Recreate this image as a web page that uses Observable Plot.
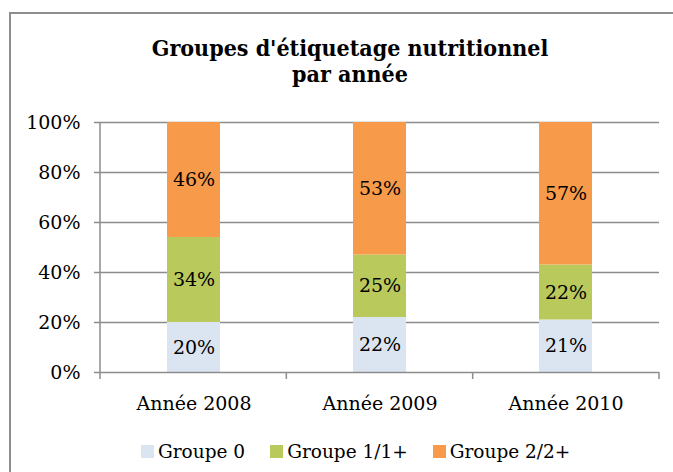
<!DOCTYPE html>
<html>
<head>
<meta charset="utf-8">
<script src="https://cdn.jsdelivr.net/npm/d3@7"></script>
<script src="https://cdn.jsdelivr.net/npm/@observablehq/plot@0.6"></script>
<style>
  html, body { margin: 0; padding: 0; background: #fff; }
  #wrap { position: relative; width: 673px; height: 472px; overflow: hidden; background: #fff; }
  #frame { position: absolute; left: 9px; top: 12px; width: 800px; height: 600px;
           border-left: 2px solid #8e8e8e; border-top: 2px solid #8e8e8e; box-sizing: border-box; }
  #title { position: absolute; left: 0; top: 35px; width: 700px; text-align: center;
           font-family: "DejaVu Serif Condensed", "DejaVu Serif", serif; font-stretch: condensed;
           font-weight: bold; font-size: 23px; line-height: 26px; color: #000; }
  #chart { position: absolute; left: 0; top: 100px; }
  #legend { position: absolute; left: 141px; top: 441px; display: flex; align-items: center;
            font-family: "DejaVu Serif", serif; font-size: 18.5px; color: #000; }
  .item { display: flex; align-items: center; margin-right: 25px; }
  .sw { width: 13px; height: 13px; margin-right: 4px; }
</style>
</head>
<body>
<div id="wrap">
  <div id="frame"></div>
  <div id="title">Groupes d'étiquetage nutritionnel<br>par année</div>
  <div id="chart"></div>
  <div id="legend"></div>
</div>
<script>
const years = ["Année 2008", "Année 2009", "Année 2010"];
const groups = ["Groupe 0", "Groupe 1/1+", "Groupe 2/2+"];
const colors = ["#dbe5f1", "#b9c95c", "#f79a4a"];
const groupe0 = [20, 22, 21];
const groupe1 = [34, 25, 22];
const groupe2 = [46, 53, 57];
const yTicks = [0, 20, 40, 60, 80, 100];

const series = [groupe0, groupe1, groupe2];
const data = [];
years.forEach((yr, i) => {
  groups.forEach((g, j) => data.push({year: yr, group: g, value: series[j][i]}));
});

const gridColor = "#8c8c8c";
const font = "DejaVu Serif, serif";

const chart = Plot.plot({
  width: 673,
  height: 320,
  marginTop: 22,
  marginBottom: 48,
  marginLeft: 100,
  marginRight: 14,
  style: {fontFamily: font, fontSize: "19px", color: "#000", background: "transparent"},
  x: {domain: years, paddingInner: 0.717, paddingOuter: 0.3585, label: null},
  y: {domain: [0, 100], label: null},
  color: {domain: groups, range: colors},
  marks: [
    Plot.gridY(yTicks.filter(d => d > 0), {stroke: gridColor, strokeOpacity: 1, strokeWidth: 1.5}),
    Plot.axisY(yTicks, {tickSize: 6, tickPadding: 14, stroke: gridColor, strokeWidth: 1.5,
                        tickFormat: d => d + "%", fontSize: 19, label: null}),
    Plot.axisX({tickSize: 0, tickPadding: 24, fontSize: 19, label: null}),
    Plot.barY(data, {x: "year", y: "value", fill: "group", z: "group", order: groups}),
    Plot.text(data, Plot.stackY({x: "year", y: "value", z: "group", order: groups,
                                 text: d => d.value + "%", fill: "#000", fontSize: 19})),
    Plot.ruleY([0], {stroke: gridColor, strokeWidth: 1.5})
  ]
});
document.getElementById("chart").appendChild(chart);

// left axis line and category boundary ticks, derived from the plot's scales
const xs = chart.scale("x"), ys = chart.scale("y");
const xBand = d3.scaleBand().domain(xs.domain).range(xs.range)
  .paddingInner(xs.paddingInner).paddingOuter(xs.paddingOuter);
const yLin = d3.scaleLinear().domain(ys.domain).range(ys.range);
const step = xBand.step();
const bounds = years.map(y => xBand(y) + xBand.bandwidth() / 2 - step / 2);
bounds.push(xBand(years[years.length - 1]) + xBand.bandwidth() / 2 + step / 2);
const g = d3.select(chart).append("g").attr("stroke", gridColor).attr("stroke-width", 1.5);
g.append("line").attr("x1", xs.range[0]).attr("x2", xs.range[0])
  .attr("y1", yLin(100)).attr("y2", yLin(0));
bounds.forEach(b => {
  g.append("line").attr("x1", b).attr("x2", b).attr("y1", yLin(0)).attr("y2", yLin(0) + 7);
});

// legend
const legend = document.getElementById("legend");
groups.forEach((gname, i) => {
  const item = document.createElement("div");
  item.className = "item";
  const sw = document.createElement("div");
  sw.className = "sw";
  sw.style.background = colors[i];
  const t = document.createElement("span");
  t.textContent = gname;
  item.appendChild(sw);
  item.appendChild(t);
  legend.appendChild(item);
});
</script>
</body>
</html>
